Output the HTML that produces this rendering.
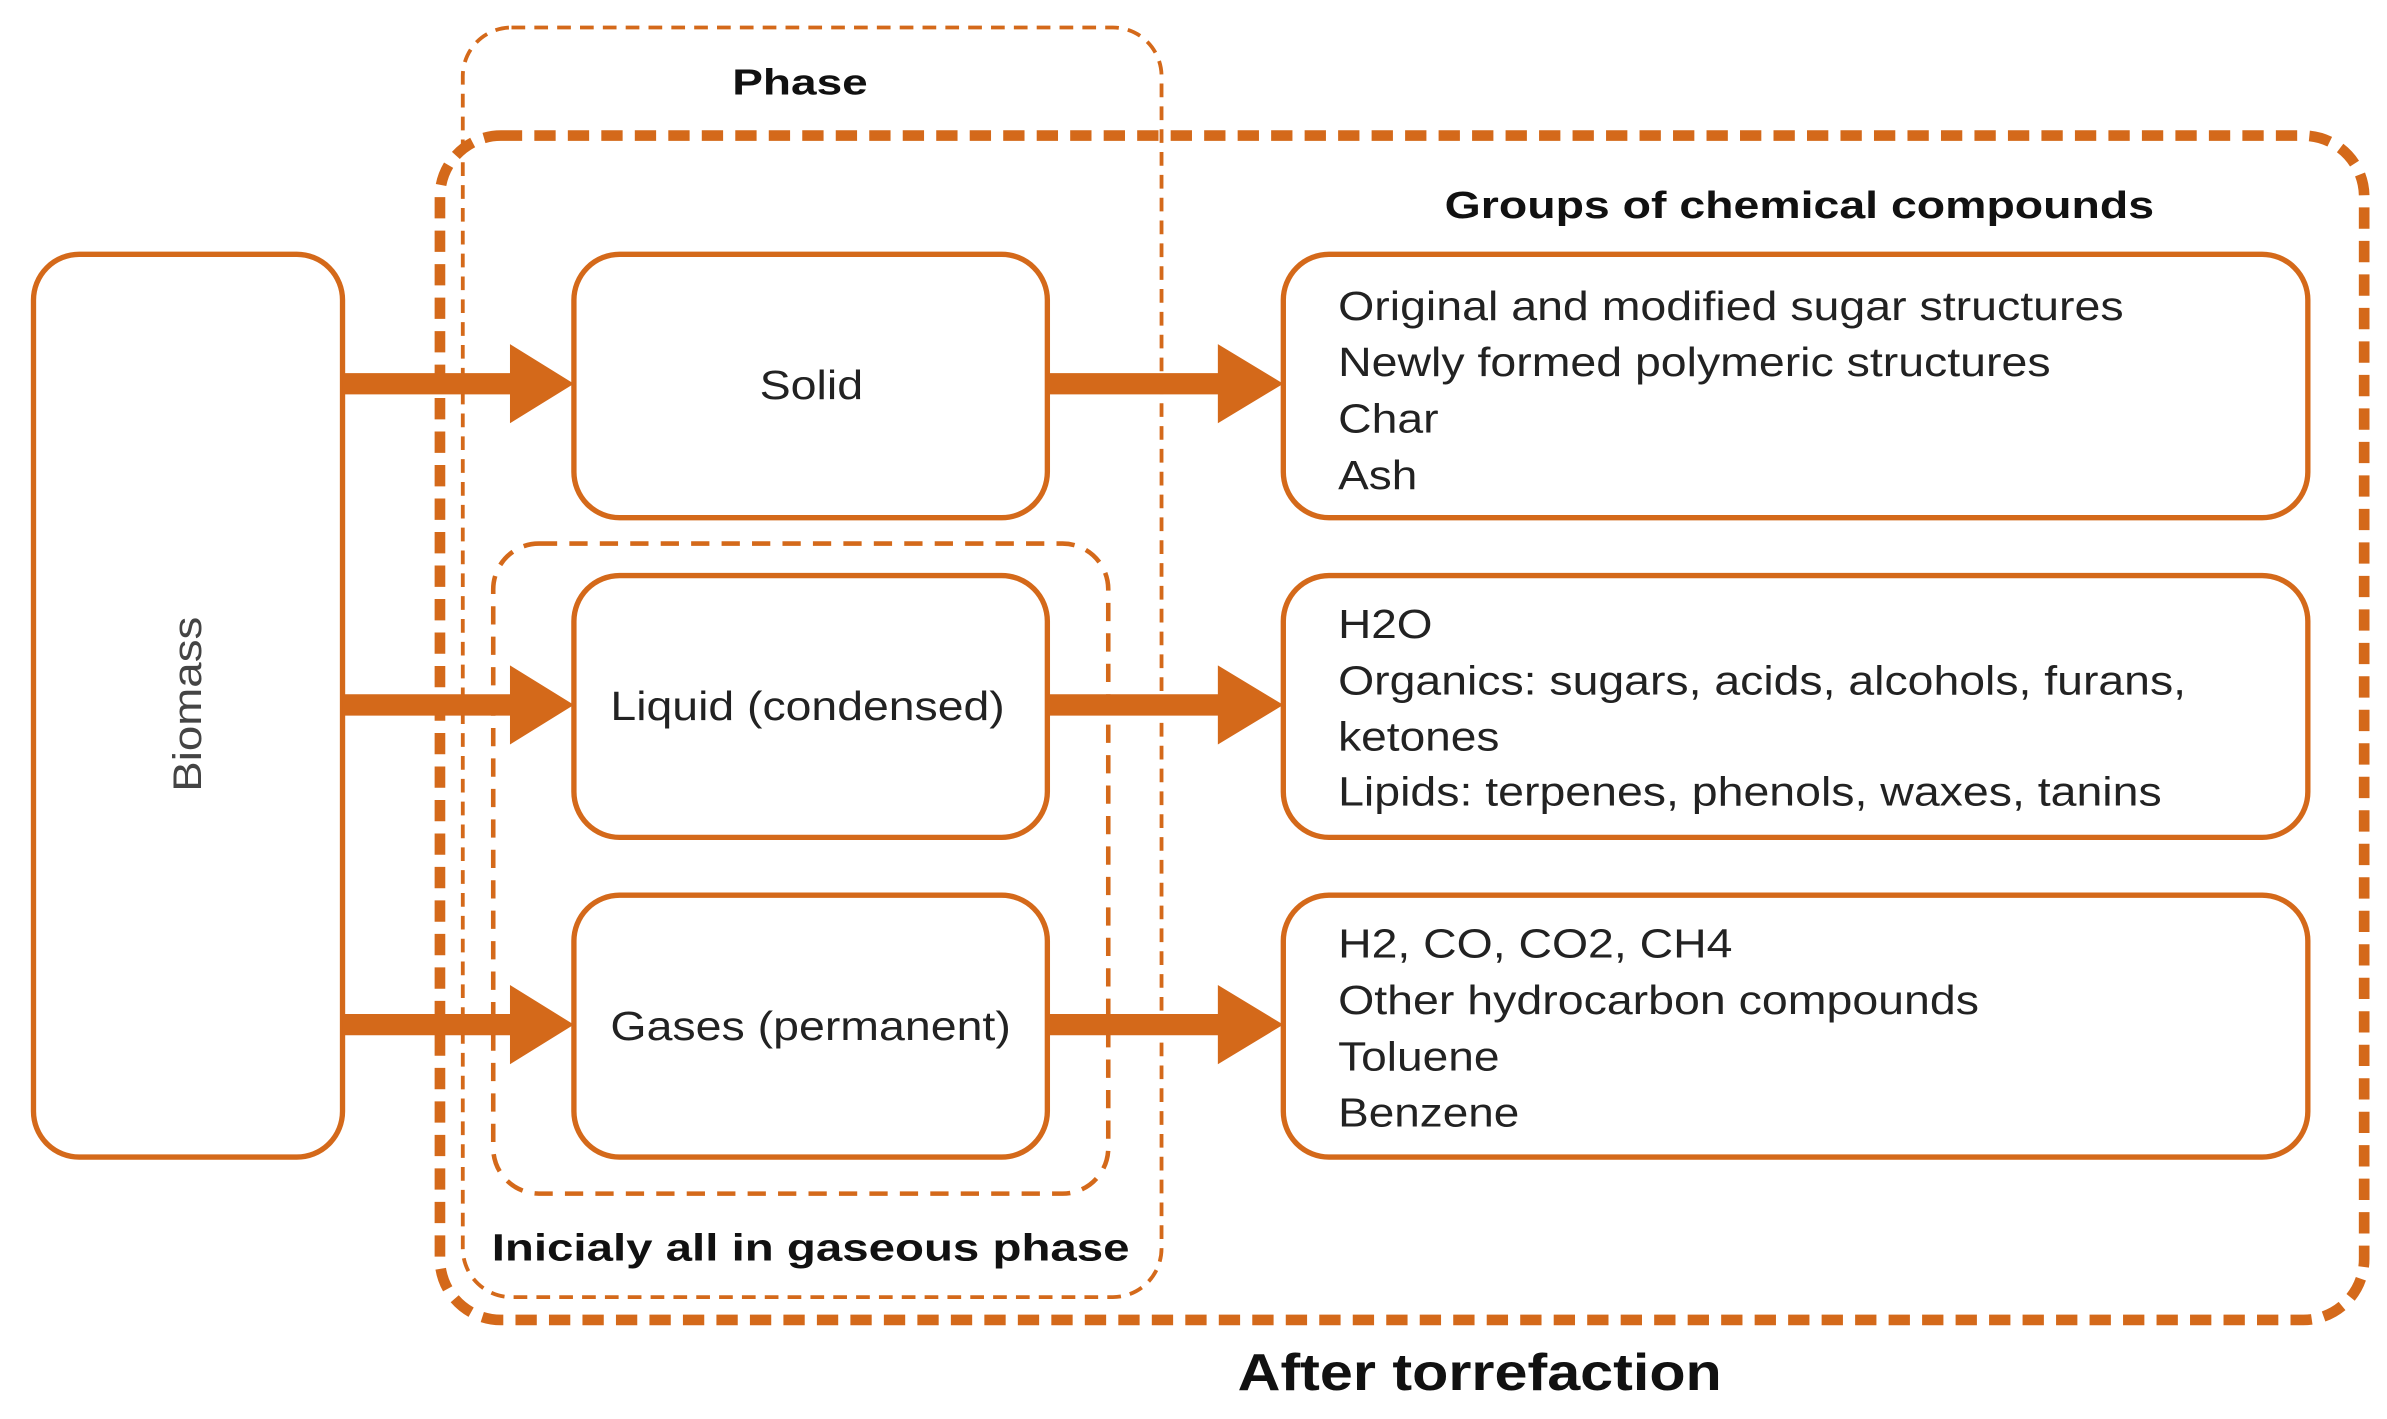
<!DOCTYPE html>
<html><head><meta charset="utf-8"><style>html,body{margin:0;padding:0;background:#fff}svg{display:block}</style></head>
<body>
<svg width="2387" height="1419" viewBox="0 0 1568 932" xmlns="http://www.w3.org/2000/svg" font-family="Liberation Sans, sans-serif">
<rect width="1568" height="932" fill="#fff"/>
<g fill="none" stroke="#d4691a">
<rect x="304" y="18" width="459" height="834" rx="32" stroke-width="2.5" stroke-dasharray="9,6"/>
<rect x="289" y="89" width="1264" height="778" rx="40" stroke-width="7" stroke-dasharray="14,8"/>
<rect x="324" y="357" width="404" height="427" rx="30" stroke-width="3" stroke-dasharray="12,8"/>
<g stroke-width="3.5">
<rect x="22" y="167" width="203" height="593" rx="30"/>
<rect x="377" y="167" width="311" height="173" rx="30"/>
<rect x="377" y="378" width="311" height="172" rx="30"/>
<rect x="377" y="588" width="311" height="172" rx="30"/>
<rect x="843" y="167" width="673" height="173" rx="30"/>
<rect x="843" y="378" width="673" height="172" rx="30"/>
<rect x="843" y="588" width="673" height="172" rx="30"/>
</g>
</g>
<g fill="#d4691a">
<path d="M225 245 H335 V226 L377 252 L335 278 V259 H225Z"/>
<path d="M225 456 H335 V437 L377 463 L335 489 V470 H225Z"/>
<path d="M225 666 H335 V647 L377 673 L335 699 V680 H225Z"/>
<path d="M688 245 H800 V226 L843 252 L800 278 V259 H688Z"/>
<path d="M688 456 H800 V437 L843 463 L800 489 V470 H688Z"/>
<path d="M688 666 H800 V647 L843 673 L800 699 V680 H688Z"/>
</g>
<g fill="#111" font-weight="bold">
<text x="481" y="62" font-size="24" textLength="89" lengthAdjust="spacingAndGlyphs">Phase</text>
<text x="949" y="143" font-size="25" textLength="466" lengthAdjust="spacingAndGlyphs">Groups of chemical compounds</text>
<text x="323" y="828" font-size="25" textLength="419" lengthAdjust="spacingAndGlyphs">Inicialy all in gaseous phase</text>
<text x="813" y="913" font-size="34" textLength="318" lengthAdjust="spacingAndGlyphs">After torrefaction</text>
</g>
<g fill="#222" font-size="27">
<text x="499" y="262" textLength="68" lengthAdjust="spacingAndGlyphs">Solid</text>
<text x="401" y="473" textLength="259" lengthAdjust="spacingAndGlyphs">Liquid (condensed)</text>
<text x="401" y="683" textLength="263" lengthAdjust="spacingAndGlyphs">Gases (permanent)</text>
<text transform="translate(132,520) rotate(-90)" fill="#444" font-size="26" textLength="115" lengthAdjust="spacingAndGlyphs">Biomass</text>
</g>
<g fill="#222" font-size="27">
<text x="879" y="210" textLength="516" lengthAdjust="spacingAndGlyphs">Original and modified sugar structures</text>
<text x="879" y="247" textLength="468" lengthAdjust="spacingAndGlyphs">Newly formed polymeric structures</text>
<text x="879" y="284" textLength="66" lengthAdjust="spacingAndGlyphs">Char</text>
<text x="879" y="321" textLength="52" lengthAdjust="spacingAndGlyphs">Ash</text>
<text x="879" y="419" textLength="62" lengthAdjust="spacingAndGlyphs">H2O</text>
<text x="879" y="456" textLength="557" lengthAdjust="spacingAndGlyphs">Organics: sugars, acids, alcohols, furans,</text>
<text x="879" y="493" textLength="106" lengthAdjust="spacingAndGlyphs">ketones</text>
<text x="879" y="529" textLength="541" lengthAdjust="spacingAndGlyphs">Lipids: terpenes, phenols, waxes, tanins</text>
<text x="879" y="629" textLength="259" lengthAdjust="spacingAndGlyphs">H2, CO, CO2, CH4</text>
<text x="879" y="666" textLength="421" lengthAdjust="spacingAndGlyphs">Other hydrocarbon compounds</text>
<text x="879" y="703" textLength="106" lengthAdjust="spacingAndGlyphs">Toluene</text>
<text x="879" y="740" textLength="119" lengthAdjust="spacingAndGlyphs">Benzene</text>
</g>
</svg>
</body></html>
